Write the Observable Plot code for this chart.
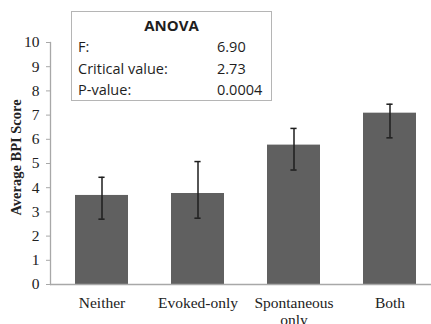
<!DOCTYPE html>
<html>
<head>
<meta charset="utf-8">
<script src="https://cdn.jsdelivr.net/npm/d3@7"></script>
<script src="https://cdn.jsdelivr.net/npm/@observablehq/plot@0.6"></script>
<style>
  html, body { margin: 0; padding: 0; background: #fff; }
  #wrap { position: relative; width: 431px; height: 324px; overflow: hidden; }
  #anova { position: absolute; left: 71px; top: 11px; width: 199px; height: 88px;
    border: 1.5px solid #b5b5b5; background: #fff; font-family: "Open Sans", sans-serif; color: #1e1e1e; }
  #anova .t { position: absolute; left: 0; right: 0; top: 4px; text-align: center; font-weight: bold; font-size: 15px; line-height: 18px; }
  #anova .r { position: absolute; font-size: 14.5px; line-height: 18px; font-weight: 500; }
</style>
</head>
<body>
<div id="wrap"><div id="chart"></div><div id="anova"></div></div>
<script>
const categories = ["Neither", "Evoked-only", "Spontaneous\nonly", "Both"];
const means = [3.68, 3.76, 5.76, 7.08];
const lower = [2.70, 2.74, 4.73, 6.06];
const upper = [4.43, 5.08, 6.45, 7.45];
const yTicks = [0, 1, 2, 3, 4, 5, 6, 7, 8, 9, 10];
const yLabel = "Average BPI Score";
const anovaTitle = "ANOVA";
const anovaLabels = ["F:", "Critical value:", "P-value:"];
const anovaValues = ["6.90", "2.73", "0.0004"];

const data = categories.map((c, i) => ({cat: c, mean: means[i], lo: lower[i], hi: upper[i]}));
const serif = "'Liberation Serif', 'Times New Roman', serif";

const chart = Plot.plot({
  width: 431,
  height: 324,
  marginLeft: 50,
  marginRight: 0,
  marginTop: 42,
  marginBottom: 40,
  style: {fontFamily: serif, fontSize: "15px", color: "#222", background: "#fff"},
  x: {domain: categories, range: [53.5, 437.5], paddingInner: 0.45, paddingOuter: 0.225, label: null},
  y: {domain: [0, 10], label: null},
  marks: [
    Plot.barY(data, {x: "cat", y: "mean", fill: "#606060"}),
    Plot.ruleX(data, {x: "cat", y1: "lo", y2: "hi", stroke: "#1e1e1e", strokeWidth: 1.5}),
    Plot.tickY(data, {x: "cat", y: "lo", stroke: "#1e1e1e", strokeWidth: 1.5, insetLeft: 23.4, insetRight: 23.4}),
    Plot.tickY(data, {x: "cat", y: "hi", stroke: "#1e1e1e", strokeWidth: 1.5, insetLeft: 23.4, insetRight: 23.4}),
    Plot.ruleY([0], {stroke: "#a8a8a8", strokeWidth: 1.3}),
    Plot.frame({anchor: "left", stroke: "#a8a8a8", strokeWidth: 1.3}),
    Plot.axisY({ticks: yTicks, tickSize: 4, tickPadding: 7, stroke: "#a8a8a8", fontSize: 15.5, fill: "#222", label: null}),
    Plot.axisX({tickSize: 0, tickPadding: 11, fontSize: 15.5, fill: "#222", lineHeight: 1.12, label: null}),
    Plot.text([yLabel], {frameAnchor: "left", textAnchor: "middle", dx: -34, dy: -6, rotate: -90, fontWeight: "bold", fontSize: 14.5, fill: "#222"})
  ]
});
document.getElementById("chart").appendChild(chart);

const box = document.getElementById("anova");
const t = document.createElement("div");
t.className = "t"; t.textContent = anovaTitle; box.appendChild(t);
anovaLabels.forEach((lab, i) => {
  const a = document.createElement("div");
  a.className = "r"; a.style.left = "6px"; a.style.top = (26 + i * 21.5) + "px"; a.textContent = lab;
  box.appendChild(a);
  const b = document.createElement("div");
  b.className = "r"; b.style.left = "145px"; b.style.top = (26 + i * 21.5) + "px"; b.textContent = anovaValues[i];
  box.appendChild(b);
});
</script>
</body>
</html>
